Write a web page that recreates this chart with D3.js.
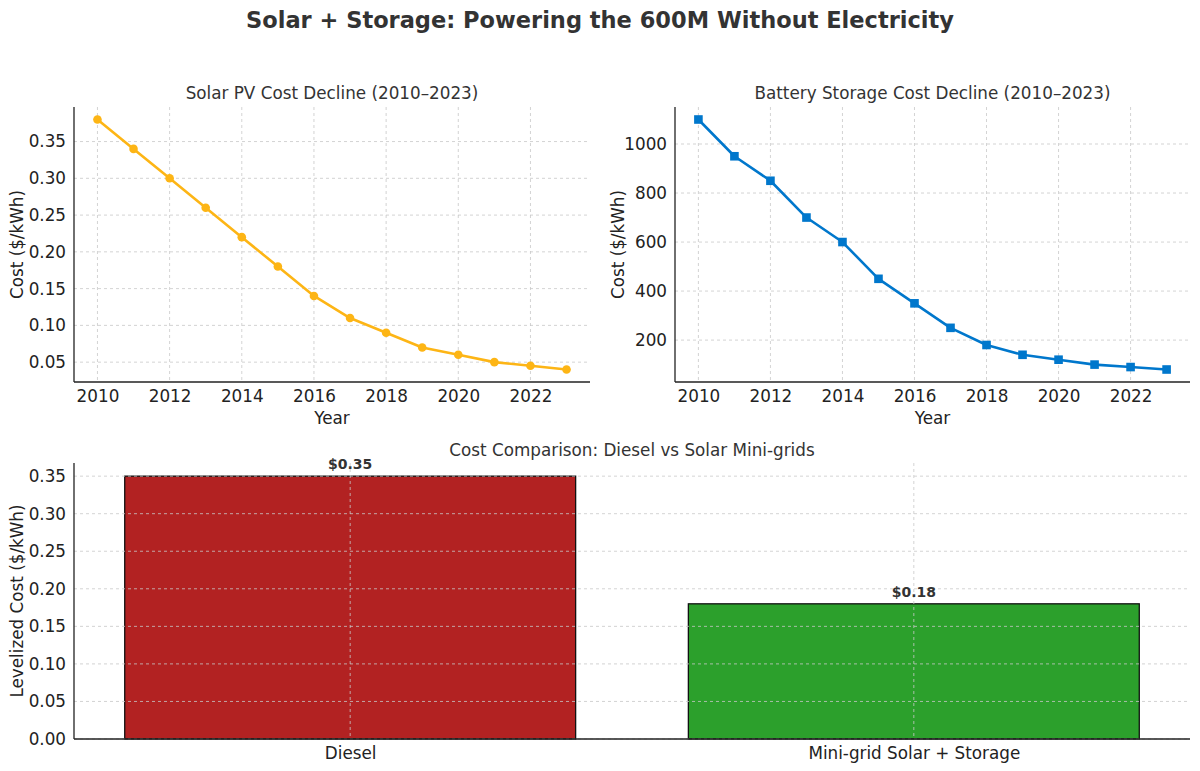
<!DOCTYPE html>
<html>
<head>
<meta charset="utf-8">
<script src="https://cdn.jsdelivr.net/npm/d3@7"></script>
<style>
  html, body { margin: 0; padding: 0; background: #fff; }
  svg { display: block; font-family: "DejaVu Sans", sans-serif; }
  .tick text { fill: #222; }
  .domain { stroke: #222; stroke-width: 1.3; }
</style>
</head>
<body>
<svg id="chart" width="1200" height="771"></svg>
<script>
// ---- data ----
const years = [2010, 2011, 2012, 2013, 2014, 2015, 2016, 2017, 2018, 2019, 2020, 2021, 2022, 2023];
const solarCost = [0.38, 0.34, 0.30, 0.26, 0.22, 0.18, 0.14, 0.11, 0.09, 0.07, 0.06, 0.05, 0.045, 0.04];
const batteryCost = [1100, 950, 850, 700, 600, 450, 350, 250, 180, 140, 120, 100, 90, 80];
const techCategories = ["Diesel", "Mini-grid Solar + Storage"];
const techCost = [0.35, 0.18];
const barLabels = ["$0.35", "$0.18"];
const yearTicks = [2010, 2012, 2014, 2016, 2018, 2020, 2022];
const solarTicks = [0.05, 0.10, 0.15, 0.20, 0.25, 0.30, 0.35];
const batteryTicks = [200, 400, 600, 800, 1000];
const barTicks = [0, 0.05, 0.10, 0.15, 0.20, 0.25, 0.30, 0.35];

const FS = 16.8;
const svg = d3.select("#chart");

svg.append("text")
  .attr("x", 600).attr("y", 28)
  .attr("text-anchor", "middle")
  .attr("font-size", 22.5).attr("font-weight", "bold").attr("fill", "#333")
  .text("Solar + Storage: Powering the 600M Without Electricity");

function pad(ext, frac) {
  const r = ext[1] - ext[0];
  return [ext[0] - r * frac, ext[1] + r * frac];
}

function gridDash(sel) {
  sel.attr("stroke", "#c8c8c8").attr("stroke-width", 0.8).attr("stroke-dasharray", "3,3");
}

function linePanel(opts) {
  const { left, right, top, bottom, values, yTicks, yFmt, color, marker, title } = opts;
  const g = svg.append("g");
  const x = d3.scaleLinear().domain(pad(d3.extent(years), 0.05)).range([left, right]);
  const y = d3.scaleLinear().domain(pad(d3.extent(values), 0.05)).range([bottom, top]);

  g.append("g").selectAll("line").data(yearTicks).join("line")
    .attr("x1", d => x(d)).attr("x2", d => x(d)).attr("y1", top).attr("y2", bottom)
    .call(gridDash);
  g.append("g").selectAll("line").data(yTicks).join("line")
    .attr("x1", left).attr("x2", right).attr("y1", d => y(d)).attr("y2", d => y(d))
    .call(gridDash);

  const pts = years.map((yr, i) => [yr, values[i]]);
  g.append("path").datum(pts)
    .attr("fill", "none").attr("stroke", color).attr("stroke-width", 2.6)
    .attr("stroke-linejoin", "round")
    .attr("d", d3.line().x(d => x(d[0])).y(d => y(d[1])));
  if (marker === "circle") {
    g.append("g").selectAll("circle").data(pts).join("circle")
      .attr("cx", d => x(d[0])).attr("cy", d => y(d[1])).attr("r", 4.3).attr("fill", color);
  } else {
    g.append("g").selectAll("rect").data(pts).join("rect")
      .attr("x", d => x(d[0]) - 4.3).attr("y", d => y(d[1]) - 4.3)
      .attr("width", 8.6).attr("height", 8.6).attr("fill", color);
  }

  g.append("g").attr("transform", `translate(0,${bottom})`)
    .call(d3.axisBottom(x).tickValues(yearTicks).tickFormat(d3.format("d")).tickSize(0).tickPadding(8))
    .call(a => a.select(".domain").attr("d", `M${left},0H${right}`));
  g.append("g").attr("transform", `translate(${left},0)`)
    .call(d3.axisLeft(y).tickValues(yTicks).tickFormat(yFmt).tickSize(0).tickPadding(8))
    .call(a => a.select(".domain").attr("d", `M0,${top}V${bottom}`));

  g.selectAll(".tick text").attr("font-family", "DejaVu Sans").attr("font-size", FS);

  g.append("text").attr("x", (left + right) / 2).attr("y", 99)
    .attr("text-anchor", "middle").attr("font-size", FS).attr("fill", "#333").text(title);
  g.append("text").attr("x", (left + right) / 2).attr("y", 424)
    .attr("text-anchor", "middle").attr("font-size", FS).attr("fill", "#222").text("Year");
  g.append("text").attr("transform", `translate(${left - 51},${(top + bottom) / 2}) rotate(-90)`)
    .attr("text-anchor", "middle").attr("font-size", FS).attr("fill", "#222").text("Cost ($/kWh)");
}

linePanel({
  left: 74, right: 590, top: 107, bottom: 382,
  values: solarCost, yTicks: solarTicks, yFmt: d3.format(".2f"),
  color: "#FDB515", marker: "circle", title: "Solar PV Cost Decline (2010\u20132023)"
});
linePanel({
  left: 675, right: 1190, top: 107, bottom: 382,
  values: batteryCost, yTicks: batteryTicks, yFmt: d3.format("d"),
  color: "#0077CC", marker: "square", title: "Battery Storage Cost Decline (2010\u20132023)"
});

// ---- bar panel ----
(function () {
  const left = 74, right = 1190, top = 463, bottom = 739;
  const g = svg.append("g");
  const x = d3.scaleLinear().domain([-0.49, 1.49]).range([left, right]);
  const y = d3.scaleLinear().domain([0, d3.max(techCost) * 1.05]).range([bottom, top]);
  const colors = ["#B22222", "#2CA02C"];
  const idx = techCategories.map((c, i) => i);

  g.append("g").selectAll("rect").data(idx).join("rect")
    .attr("x", i => x(i - 0.4)).attr("width", i => x(i + 0.4) - x(i - 0.4))
    .attr("y", i => y(techCost[i])).attr("height", i => y(0) - y(techCost[i]))
    .attr("fill", i => colors[i]).attr("stroke", "#111").attr("stroke-width", 1.3);

  g.append("g").selectAll("line").data(idx).join("line")
    .attr("x1", i => x(i)).attr("x2", i => x(i)).attr("y1", top).attr("y2", bottom)
    .call(gridDash);
  g.append("g").selectAll("line").data(barTicks).join("line")
    .attr("x1", left).attr("x2", right).attr("y1", d => y(d)).attr("y2", d => y(d))
    .call(gridDash);

  g.append("g").selectAll("text").data(idx).join("text")
    .attr("x", i => x(i)).attr("y", i => y(techCost[i]) - 7)
    .attr("text-anchor", "middle").attr("font-size", 14).attr("font-weight", "bold")
    .attr("fill", "#333").text(i => barLabels[i]);

  g.append("g").attr("transform", `translate(0,${bottom})`)
    .call(d3.axisBottom(x).tickValues(idx).tickFormat(i => techCategories[i]).tickSize(0).tickPadding(8))
    .call(a => a.select(".domain").attr("d", `M${left},0H${right}`));
  g.append("g").attr("transform", `translate(${left},0)`)
    .call(d3.axisLeft(y).tickValues(barTicks).tickFormat(d3.format(".2f")).tickSize(0).tickPadding(8))
    .call(a => a.select(".domain").attr("d", `M0,${top}V${bottom}`));
  g.selectAll(".tick text").attr("font-family", "DejaVu Sans").attr("font-size", FS);

  g.append("text").attr("x", (left + right) / 2).attr("y", 456)
    .attr("text-anchor", "middle").attr("font-size", FS).attr("fill", "#333")
    .text("Cost Comparison: Diesel vs Solar Mini-grids");
  g.append("text").attr("transform", `translate(${left - 51},${(top + bottom) / 2}) rotate(-90)`)
    .attr("text-anchor", "middle").attr("font-size", FS).attr("fill", "#222").text("Levelized Cost ($/kWh)");
})();
</script>
</body>
</html>
